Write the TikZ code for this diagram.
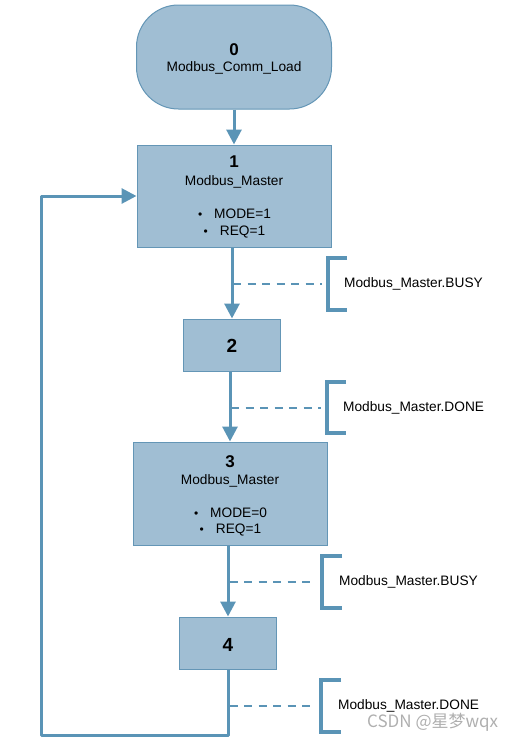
\documentclass[tikz,border=0pt]{standalone}
\usepackage{fontspec}
\setmainfont{Liberation Sans}
\newfontfamily\cjkfont{Noto Sans CJK SC}
\usetikzlibrary{arrows.meta,calc}
\definecolor{boxfill}{RGB}{160,190,211}
\definecolor{boxborder}{RGB}{100,150,182}
\definecolor{linecol}{RGB}{90,148,182}
\definecolor{wmark}{RGB}{175,175,175}
\tikzset{
  box/.style={draw=boxborder, fill=boxfill, line width=1pt, inner sep=0pt},
  conn/.style={draw=linecol, line width=3pt, line join=round},
  arr/.style={conn, -{Triangle[width=15pt,length=15pt]}},
  dashline/.style={draw=linecol, line width=2.5pt, dash pattern=on 8pt off 6.5pt},
  bracketline/.style={draw=linecol, line width=3.5pt, line join=miter},
  numtxt/.style={font=\fontsize{17}{20}\selectfont\bfseries, inner sep=0pt},
  bignum/.style={font=\fontsize{19}{22}\selectfont\bfseries, inner sep=0pt},
  txt/.style={font=\fontsize{13.7}{16}\selectfont, inner sep=0pt},
  lbl/.style={font=\fontsize{13.7}{16}\selectfont, inner sep=0pt, anchor=west},
}
\newcommand{\bul}{{\fontsize{12}{12}\selectfont\textbullet}\hspace{12pt}}
\begin{document}
\begin{tikzpicture}[x=1pt,y=-1pt]
\useasboundingbox (0,0) rectangle (524,745);
% boxes
\node[box, rounded corners=42pt, minimum width=195pt, minimum height=104pt] (n0) at (234,57) {};
\node[box, minimum width=194pt, minimum height=102pt] (n1) at (234,196) {};
\node[box, minimum width=97pt, minimum height=52pt] (n2) at (232,345) {};
\node[box, minimum width=194pt, minimum height=103pt] (n3) at (230,493.5) {};
\node[box, minimum width=97pt, minimum height=52pt] (n4) at (228,643) {};
% texts
\node[numtxt] (t0a) at (234,50) {0};
\node[txt] (t0b) at (234,68) {Modbus\_Comm\_Load};
\node[numtxt] (t1a) at (234,162) {1};
\node[txt] (t1b) at (234,182) {Modbus\_Master};
\node[txt] (t1c) at (234.5,214) {\bul MODE=1};
\node[txt] (t1d) at (234.5,232) {\bul REQ=1};
\node[bignum] (t2) at (232,346) {2};
\node[numtxt] (t3a) at (230,462) {3};
\node[txt] (t3b) at (230,481) {Modbus\_Master};
\node[txt] (t3c) at (230.5,513) {\bul MODE=0};
\node[txt] (t3d) at (230.5,530) {\bul REQ=1};
\node[bignum] (t4) at (228,645) {4};
% connectors
\draw[arr] (n0.south) -- (n1.north);
\draw[arr] (n1.south -| n2.north) -- (n2.north);
\draw[arr] (n2.south -| n3.north) -- (n3.north);
\draw[arr] (n3.south -| n4.north) -- (n4.north);
\coordinate (c1) at (228,735);
\coordinate (c2) at (41,735);
\coordinate (c3) at (41,196);
\draw[arr] (n4.south) -- (c1) -- (c2) -- (c3) -- (n1.west);
% dashed conditions
\coordinate (d1) at (233,284);
\coordinate (e1) at (322,284);
\coordinate (d2) at (231,408);
\coordinate (e2) at (321,408);
\coordinate (d3) at (229.5,582);
\coordinate (e3) at (316,582);
\coordinate (d4) at (229.5,706);
\coordinate (e4) at (315,706);
\draw[dashline] (d1) -- (e1);
\draw[dashline] (d2) -- (e2);
\draw[dashline] (d3) -- (e3);
\draw[dashline] (d4) -- (e4);
% brackets
\draw[bracketline] (347,258) -- (328,258) -- (328,310) -- (347,310);
\draw[bracketline] (346,382) -- (327,382) -- (327,433) -- (346,433);
\draw[bracketline] (342,556) -- (322,556) -- (322,608) -- (342,608);
\draw[bracketline] (341,680) -- (321,680) -- (321,732) -- (341,732);
% labels
\node[lbl] (l1) at (344,284) {Modbus\_Master.BUSY};
\node[lbl] (l2) at (343,408) {Modbus\_Master.DONE};
\node[lbl] (l3) at (339,582) {Modbus\_Master.BUSY};
\node[lbl] (l4) at (338,706) {Modbus\_Master.DONE};
% watermark
\node[anchor=west, inner sep=0pt, text=wmark, font=\cjkfont\fontsize{17}{20}\selectfont] (wm) at (367,722) {CSDN @星梦wqx};
\end{tikzpicture}
\end{document}
